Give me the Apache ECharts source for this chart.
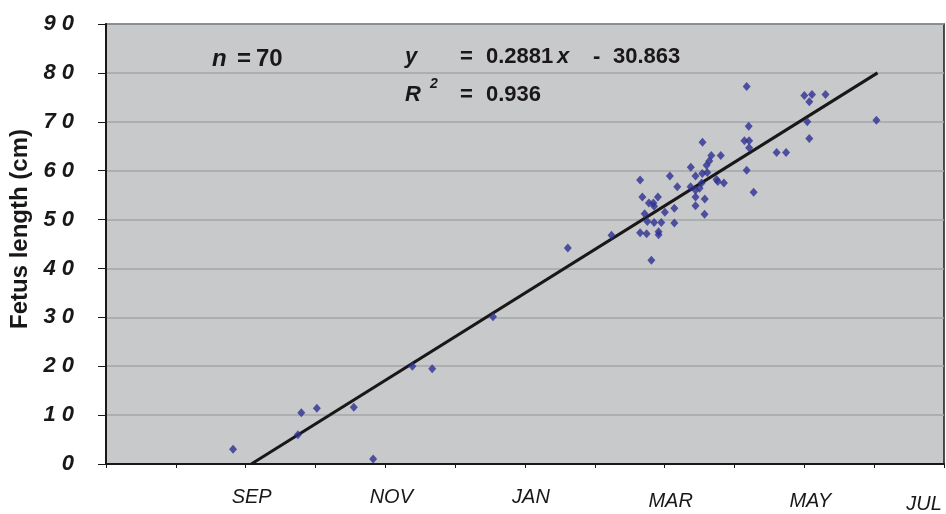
<!DOCTYPE html>
<html>
<head>
<meta charset="utf-8">
<script src="https://cdn.jsdelivr.net/npm/echarts@6/dist/echarts.min.js"></script>
<style>
  html, body { margin: 0; padding: 0; background: #fff; }
  #chart { width: 946px; height: 514px; }
</style>
</head>
<body>
<div id="chart"></div>
<script>
// days counted from the first (unlabelled) tick of the x axis, one tick per month (31 d)
const days = [56.4, 85.2, 86.7, 93.6, 110.0, 118.6, 136.0, 144.8, 171.8, 205.0,
  224.4, 237.1, 238.1, 241.0, 243.0, 243.3, 245.0, 239.1, 240.3, 243.3,
  246.5, 248.1, 252.3, 252.3, 237.1, 240.0, 245.3, 245.3, 242.1, 250.3,
  253.6, 259.6, 261.7, 264.7, 266.9, 266.6, 267.8, 268.7, 272.9, 259.5,
  261.7, 263.5, 264.4, 271.0, 271.6, 274.3, 261.7, 265.8, 261.7, 265.7,
  264.8, 284.4, 285.3, 283.4, 285.5, 285.5, 284.4, 287.5, 297.7, 301.9,
  310.0, 313.4, 319.4, 312.2, 311.3, 312.2, 342.0]
const lengths = [3.0, 6.0, 10.5, 11.4, 11.6, 1.0, 20.0, 19.5, 30.1, 44.2,
  46.8, 58.1, 54.6, 53.4, 53.4, 52.7, 54.6, 51.2, 49.6, 49.4,
  49.4, 51.5, 52.3, 49.3, 47.3, 47.1, 47.5, 46.9, 41.7, 58.9,
  56.7, 60.7, 58.9, 59.4, 59.6, 61.1, 62.0, 63.1, 63.1, 56.7,
  56.0, 56.4, 57.5, 58.2, 57.8, 57.5, 54.6, 54.2, 52.8, 51.1,
  65.8, 77.2, 69.1, 66.1, 66.1, 64.7, 60.1, 55.6, 63.7, 63.7,
  75.4, 75.6, 75.6, 74.1, 70.0, 66.6, 70.3]
// end points of the fitted line y = 0.2881x - 30.863
const fitDays = [64.5, 342.5]
const fitLengths = [0, 80]
// month label at every tick
const monthTicks = ['', '', 'SEP', '', 'NOV', '', 'JAN', '', 'MAR', '', 'MAY', '', 'JUL']

const chart = echarts.init(document.getElementById('chart'))
const font = 'Liberation Sans'
const ink = '#1a1718'

function txt(x, y, text, size, italic) {
  return {
    type: 'text',
    x: x,
    y: y,
    style: {
      text: text,
      font: (italic ? 'italic ' : '') + 'bold ' + size + 'px ' + font,
      fill: ink,
      verticalAlign: 'middle',
    },
  }
}

const option = {
  animation: false,
  backgroundColor: '#fff',
  grid: {
    left: 106,
    right: 2,
    top: 24,
    bottom: 45.5,
    show: true,
    backgroundColor: '#c8c9cb',
    borderColor: ink,
    borderWidth: 1.5,
  },
  xAxis: {
    type: 'value',
    min: 0,
    max: 372,
    interval: 31,
    axisLine: { show: true, onZero: false, lineStyle: { color: ink, width: 2 } },
    axisTick: { show: true, length: 4, lineStyle: { color: ink, width: 1 } },
    splitLine: { show: false },
    axisLabel: {
      margin: 23,
      showMinLabel: true,
      showMaxLabel: true,
      formatter(v) {
        const label = monthTicks[Math.round(v / 31)] || ''
        if (!label) return ''
        if (label === 'JUL') return '{j|JUL}'
        if (label === 'MAR' || label === 'MAY') return '{b|' + label + '}'
        return '{a|' + label + '}'
      },
      rich: {
        a: { fontFamily: font, fontStyle: 'italic', fontSize: 20, color: ink, padding: [0, 0, 0, 12] },
        b: { fontFamily: font, fontStyle: 'italic', fontSize: 20, color: ink, padding: [4, 0, 0, 12] },
        j: { fontFamily: font, fontStyle: 'italic', fontSize: 20, color: ink, padding: [7, 40, 0, 0] },
      },
    },
  },
  yAxis: {
    type: 'value',
    min: 0,
    max: 90,
    interval: 10,
    name: 'Fetus length (cm)',
    nameLocation: 'middle',
    nameGap: 71,
    nameTextStyle: {
      fontFamily: font,
      fontWeight: 'bold',
      fontSize: 24,
      color: ink,
      padding: [0, 0, 0, 30],
    },
    axisLine: { show: true, lineStyle: { color: ink, width: 2 } },
    axisTick: { show: true, length: 8, lineStyle: { color: ink, width: 1 } },
    splitLine: { show: true, lineStyle: { color: '#a3a4a6', width: 1.5 } },
    axisLabel: {
      margin: 32,
      fontFamily: font,
      fontStyle: 'italic',
      fontWeight: 'bold',
      fontSize: 22,
      color: ink,
      formatter: (v) => String(v).split('').join(' '),
    },
  },
  graphic: [
    txt(212, 59, 'n', 24, true),
    txt(237, 59, '=', 24, false),
    txt(256, 59, '70', 24, false),
    txt(405, 57, 'y', 22, true),
    txt(460, 57, '=', 22, false),
    txt(486, 57, '0.2881', 22, false),
    txt(557, 57, 'x', 22, true),
    txt(593, 57, '-', 22, false),
    txt(613, 57, '30.863', 22, false),
    txt(405, 95, 'R', 22, true),
    txt(430, 84, '2', 14, true),
    txt(460, 95, '=', 22, false),
    txt(486, 95, '0.936', 22, false),
  ],
  series: [
    {
      type: 'line',
      data: fitDays.map((d, i) => [d, fitLengths[i]]),
      showSymbol: false,
      lineStyle: { color: ink, width: 3 },
      z: 2,
    },
    {
      type: 'scatter',
      data: days.map((d, i) => [d, lengths[i]]),
      symbol: 'diamond',
      symbolSize: [8, 9],
      itemStyle: { color: '#2e3192' },
      z: 3,
    },
  ],
}
chart.setOption(option)
window.addEventListener('resize', () => {
  chart.resize()
})
</script>
</body>
</html>
